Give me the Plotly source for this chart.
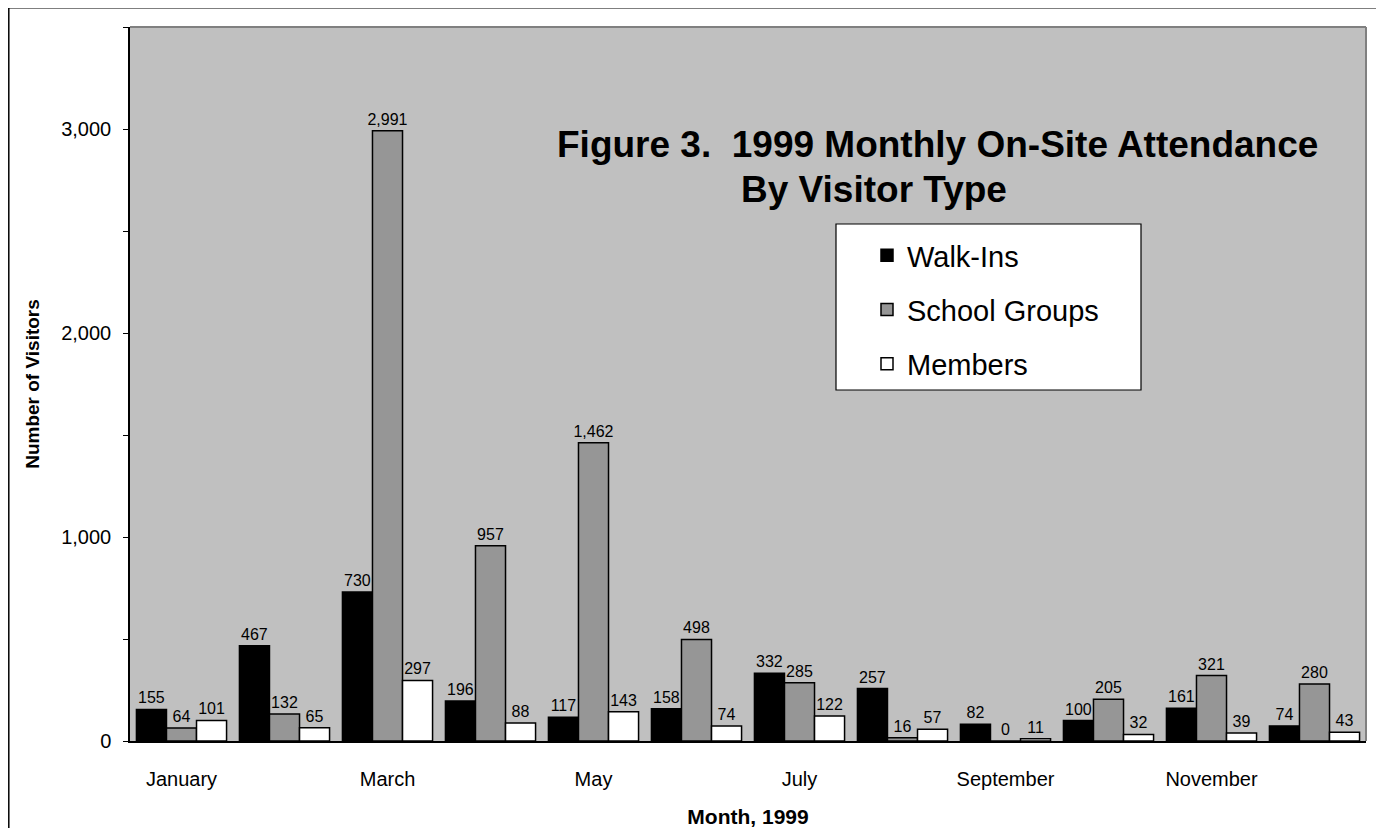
import plotly.graph_objects as go

months = ["January", "February", "March", "April", "May", "June", "July",
          "August", "September", "October", "November", "December"]
walk_ins = [155, 467, 730, 196, 117, 158, 332, 257, 82, 100, 161, 74]
school_groups = [64, 132, 2991, 957, 1462, 498, 285, 16, 0, 205, 321, 280]
members = [101, 65, 297, 88, 143, 74, 122, 57, 11, 32, 39, 43]
shown_months = ["January", "March", "May", "July", "September", "November"]
y_ticks = [0, 1000, 2000, 3000]

FONT = "Liberation Sans, Arial, sans-serif"

series = [("Walk-Ins", walk_ins, "#000000"),
          ("School Groups", school_groups, "#969696"),
          ("Members", members, "#ffffff")]

fig = go.Figure()
for i, (name, vals, col) in enumerate(series):
    fig.add_trace(go.Bar(
        x=months, y=vals, name=name,
        marker=dict(color=col, line=dict(color="#000000", width=1.5)),
        text=[f"{v:,}" for v in vals], textposition="outside",
        constraintext="none",
        textfont=dict(family=FONT, size=16, color="#000000"),
        cliponaxis=False, legendgroup=f"g{i}",
    ))

# page is offset by the 8px body margin; geometry below in page pixels
OFF = 8
FW, FH = 1376, 820
L, T, W, H = 130 - OFF, 27 - OFF, 1236, 714


def px(x):  # page x -> paper
    return (x - OFF - L) / W


def py(y):  # page y -> paper
    return (T + H - (y - OFF)) / H


shapes = [
    # legend box
    dict(type="rect", xref="paper", yref="paper", x0=px(836), x1=px(1141),
         y0=py(390), y1=py(224), fillcolor="#ffffff",
         line=dict(color="#000000", width=1.2), layer="below"),
    # gray top/right frame of plot area
    dict(type="line", xref="paper", yref="paper", x0=0, x1=1, y0=1, y1=1,
         line=dict(color="#808080", width=2)),
    dict(type="line", xref="paper", yref="paper", x0=1, x1=1, y0=0, y1=1,
         line=dict(color="#808080", width=2)),
    # figure border (left/top visible)
    dict(type="line", xref="paper", yref="paper", x0=px(8.8), x1=px(8.8),
         y0=py(900), y1=py(7.8), line=dict(color="#000000", width=1.5)),
    dict(type="line", xref="paper", yref="paper", x0=px(8.8), x1=px(1500),
         y0=py(7.8), y1=py(7.8), line=dict(color="#000000", width=1.5)),
]

title_font = dict(family=FONT, size=37, color="#000000", weight="bold")

fig.update_layout(
    width=FW, height=FH,
    margin=dict(l=L, r=FW - L - W, t=T, b=FH - T - H, autoexpand=False),
    paper_bgcolor="#ffffff", plot_bgcolor="#c0c0c0",
    barmode="group", bargap=0.125, bargroupgap=0,
    font=dict(family=FONT, color="#000000"),
    showlegend=True,
    legend=dict(x=px(867), y=py(230), xanchor="left", yanchor="top",
                bgcolor="rgba(0,0,0,0)", borderwidth=0,
                font=dict(family=FONT, size=29, color="#000000"),
                tracegroupgap=13.5, itemclick=False),
    shapes=shapes,
    annotations=[
        dict(text="Figure 3.  1999 Monthly On-Site Attendance",
             xref="paper", yref="paper", x=px(937), y=py(145),
             xanchor="center", yanchor="middle", showarrow=False,
             font=title_font),
        dict(text="By Visitor Type",
             xref="paper", yref="paper", x=px(874), y=py(190),
             xanchor="center", yanchor="middle", showarrow=False,
             font=title_font),
    ],
    xaxis=dict(
        type="category", categoryorder="array", categoryarray=months,
        tickmode="array", tickvals=shown_months, ticktext=shown_months,
        ticks="", showgrid=False, showline=True, linecolor="#000000",
        linewidth=1.5, tickfont=dict(family=FONT, size=20),
        ticklabelstandoff=19, automargin=False,
        title=dict(text="<b>Month, 1999</b>", font=dict(family=FONT, size=21),
                   standoff=22),
    ),
    yaxis=dict(
        range=[0, 3500], tickmode="array", tickvals=y_ticks,
        ticktext=[f"{v:,}" for v in y_ticks],
        ticks="outside", ticklen=5, tickcolor="#000000", tickwidth=1.2,
        minor=dict(tickmode="linear", dtick=500, ticks="outside", ticklen=5,
                   tickcolor="#000000", tickwidth=1.2, showgrid=False),
        showgrid=False, zeroline=False, showline=True, linecolor="#000000",
        linewidth=1.5, tickfont=dict(family=FONT, size=20),
        ticklabelstandoff=8, automargin=False,
        title=dict(text="<b>Number of Visitors</b>",
                   font=dict(family=FONT, size=19), standoff=17),
    ),
)

fig.write_html("out.html")
